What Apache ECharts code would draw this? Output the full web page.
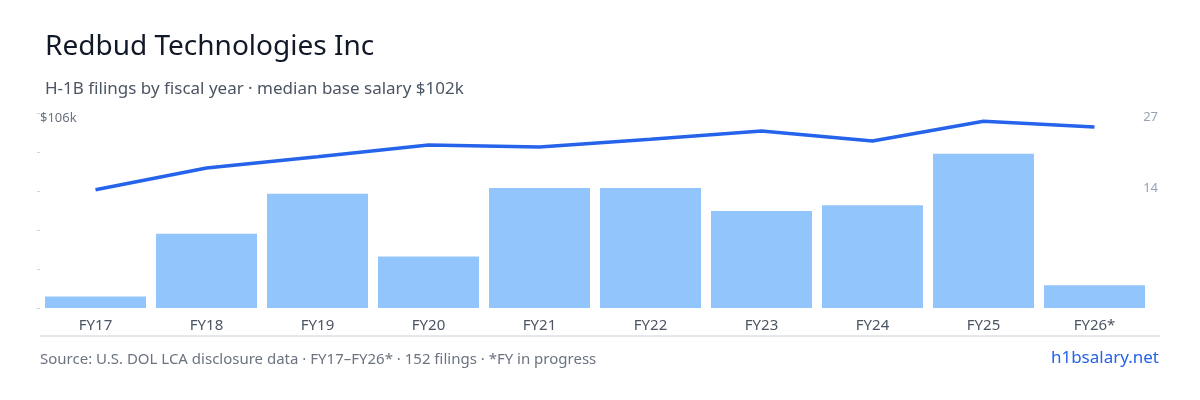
<!DOCTYPE html>
<html><head><meta charset="utf-8">
<script src="https://cdn.jsdelivr.net/npm/echarts@6/dist/echarts.min.js"></script>
<style>html,body{margin:0;padding:0;background:#fff}#c{width:1200px;height:400px}</style>
</head><body><div id="c"></div>
<script>
const categories = ['FY17','FY18','FY19','FY20','FY21','FY22','FY23','FY24','FY25','FY26*'];
const filings = [2,13,20,9,21,21,17,18,27,4];
const salaryK = [86.3,91.9,94.8,97.8,97.3,99.3,101.4,98.8,103.9,102.4];
const rightLabels = ['27','14'];
const chart = echarts.init(document.getElementById('c'));
const F = 'Noto Sans';
chart.setOption({
  animation:false,
  textStyle:{fontFamily:F},
  grid:{left:40,right:50,top:113,bottom:92},
  title:[
    {text:'Redbud Technologies Inc',left:40,top:28,textStyle:{fontFamily:F,fontSize:28,fontWeight:'normal',color:'#111827'}},
    {text:'H-1B filings by fiscal year · median base salary $102k',left:40,top:76,textStyle:{fontFamily:F,fontSize:17,fontWeight:'normal',color:'#4b5563'}}
  ],
  graphic:[
    {type:'text',left:40,top:112,style:{text:'$106k',fill:'#6b7280',font:'13px "Noto Sans"'}},
    {type:'text',right:42,top:111,style:{text:rightLabels[0],fill:'#94a3b8',font:'13px "Noto Sans"'}},
    {type:'text',right:42,top:182,style:{text:rightLabels[1],fill:'#94a3b8',font:'13px "Noto Sans"'}},
    {type:'rect',shape:{x:40,y:335,width:1120,height:2},style:{fill:'#e5e7eb'}},
    {type:'text',left:40,top:352,style:{text:'Source: U.S. DOL LCA disclosure data · FY17–FY26* · 152 filings · *FY in progress',fill:'#6b7280',font:'15px "Noto Sans"'}},
    {type:'text',right:41,top:350,style:{text:'h1bsalary.net',fill:'#2563eb',font:'17px "Noto Sans"'}}
  ],
  xAxis:{type:'category',data:categories,axisLine:{show:false},axisTick:{show:false},
    axisLabel:{color:'#4b5563',fontSize:15,margin:10}},
  yAxis:[
    {type:'value',min:56,max:106,interval:10,splitLine:{show:false},axisLine:{show:false},
     axisTick:{show:true,length:3,lineStyle:{color:'#d1d5db'}},axisLabel:{show:false}},
    {type:'value',min:0,max:34.15,splitLine:{show:false},axisLine:{show:false},axisTick:{show:false},axisLabel:{show:false}}
  ],
  series:[
    {type:'bar',yAxisIndex:1,data:filings,barCategoryGap:'9%',itemStyle:{color:'#93c5fd'}},
    {type:'line',yAxisIndex:0,data:salaryK,symbol:'none',lineStyle:{color:'#2563eb',width:3.5},z:5}
  ]
});
</script></body></html>
